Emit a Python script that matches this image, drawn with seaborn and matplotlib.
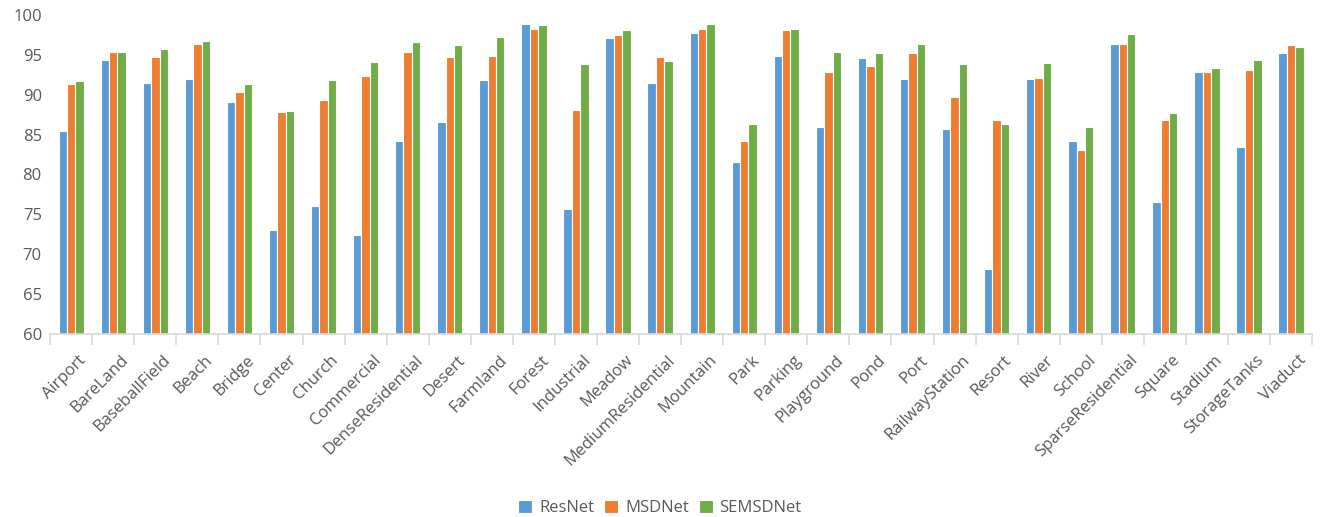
import matplotlib
matplotlib.use("Agg")
import matplotlib.pyplot as plt
import matplotlib.transforms as mtransforms
import seaborn as sns
import pandas as pd
import numpy as np

categories = ["Airport", "BareLand", "BaseballField", "Beach", "Bridge", "Center", "Church",
              "Commercial", "DenseResidential", "Desert", "Farmland", "Forest", "Industrial",
              "Meadow", "MediumResidential", "Mountain", "Park", "Parking", "Playground", "Pond",
              "Port", "RailwayStation", "Resort", "River", "School", "SparseResidential",
              "Square", "Stadium", "StorageTanks", "Viaduct"]

resnet = [85.5, 94.3, 91.5, 92.0, 89.1, 73.1, 76.0, 72.4, 84.2, 86.6, 91.8, 98.9, 75.7, 97.1,
          91.5, 97.8, 81.6, 94.9, 85.9, 94.6, 92.0, 85.7, 68.1, 92.0, 84.2, 96.4, 76.6, 92.8,
          83.4, 95.2]
msdnet = [91.3, 95.4, 94.7, 96.4, 90.4, 87.8, 89.4, 92.3, 95.4, 94.7, 94.9, 98.3, 88.1, 97.5,
          94.7, 98.3, 84.2, 98.1, 92.8, 93.6, 95.2, 89.7, 86.8, 92.1, 83.1, 96.4, 86.8, 92.8,
          93.1, 96.2]
semsdnet = [91.7, 95.4, 95.7, 96.8, 91.3, 88.0, 91.8, 94.1, 96.6, 96.2, 97.3, 98.8, 93.8, 98.1,
            94.2, 98.9, 86.3, 98.3, 95.4, 95.2, 96.4, 93.9, 86.3, 94.0, 86.0, 97.6, 87.7, 93.3,
            94.4, 96.0]

models = ["ResNet", "MSDNet", "SEMSDNet"]
colors = ["#5B9BD5", "#ED7D31", "#70AD47"]

df = pd.DataFrame({
    "category": categories * 3,
    "model": [m for m in models for _ in categories],
    "accuracy": resnet + msdnet + semsdnet,
})

sns.set_theme(style="white")
plt.rcParams["font.family"] = ["Open Sans", "DejaVu Sans"]

fig = plt.figure(figsize=(13.2, 5.17), dpi=100)
ax = fig.add_axes([0.038, 0.354, 0.956, 0.617])

sns.barplot(data=df, x="category", y="accuracy", hue="model", palette=colors,
            saturation=1, width=0.6, edgecolor="white", linewidth=0.8, ax=ax, legend=True)

# bars start from the axis floor at 60
for p in ax.patches:
    h = p.get_height()
    if h > 0:
        p.set_y(60)
        p.set_height(h - 60)

ax.set_ylim(60, 100)
ax.set_xlim(-0.5, len(categories) - 0.5)
ax.set_yticks(np.arange(60, 101, 5))
ax.set_xlabel("")
ax.set_ylabel("")

for s in ["top", "right", "left"]:
    ax.spines[s].set_visible(False)
ax.spines["bottom"].set_color("#d9d9d9")
ax.spines["bottom"].set_linewidth(1.2)

ax.set_xticks(np.arange(len(categories)))
ax.set_xticklabels(categories, rotation=45, ha="right", rotation_mode="anchor")
ax.set_xticks(np.arange(-0.5, len(categories)), minor=True)
ax.tick_params(axis="x", which="major", length=0, pad=13, labelsize=12, labelcolor="#595959")
ax.tick_params(axis="x", which="minor", length=8, width=1.2, color="#d9d9d9", direction="out",
               bottom=True)
ax.tick_params(axis="y", length=0, pad=6, labelsize=12, labelcolor="#595959")

shift = mtransforms.ScaledTranslation(5 / 72, 0, fig.dpi_scale_trans)
for lbl in ax.get_xticklabels():
    lbl.set_transform(lbl.get_transform() + shift)

handles, labels = ax.get_legend_handles_labels()
ax.legend_.remove()
fig.legend(handles, labels, loc="lower center", bbox_to_anchor=(0.5, -0.028), ncol=3,
           frameon=False, fontsize=12, labelcolor="#595959", handlelength=0.85,
           handleheight=0.85, handletextpad=0.4, columnspacing=0.6)

fig.savefig("out.png", dpi=100)
